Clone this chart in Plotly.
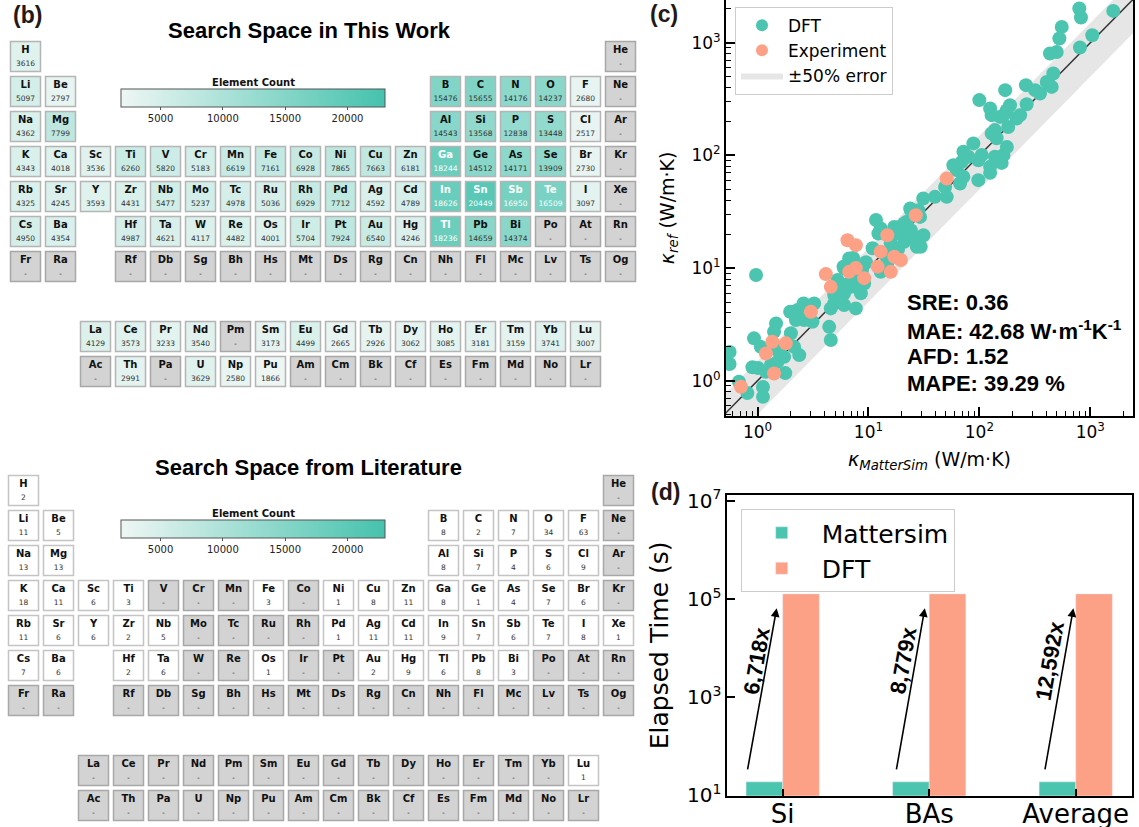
import numpy as np
import plotly.graph_objects as go

W, H = 1139, 827

# ---------------- periodic-table data ----------------
PT_LAYOUT = [
    ["H", "", "", "", "", "", "", "", "", "", "", "", "", "", "", "", "", "He"],
    ["Li", "Be", "", "", "", "", "", "", "", "", "", "", "B", "C", "N", "O", "F", "Ne"],
    ["Na", "Mg", "", "", "", "", "", "", "", "", "", "", "Al", "Si", "P", "S", "Cl", "Ar"],
    ["K", "Ca", "Sc", "Ti", "V", "Cr", "Mn", "Fe", "Co", "Ni", "Cu", "Zn", "Ga", "Ge", "As", "Se", "Br", "Kr"],
    ["Rb", "Sr", "Y", "Zr", "Nb", "Mo", "Tc", "Ru", "Rh", "Pd", "Ag", "Cd", "In", "Sn", "Sb", "Te", "I", "Xe"],
    ["Cs", "Ba", "", "Hf", "Ta", "W", "Re", "Os", "Ir", "Pt", "Au", "Hg", "Tl", "Pb", "Bi", "Po", "At", "Rn"],
    ["Fr", "Ra", "", "Rf", "Db", "Sg", "Bh", "Hs", "Mt", "Ds", "Rg", "Cn", "Nh", "Fl", "Mc", "Lv", "Ts", "Og"],
    [""] * 18,
    ["", "", "La", "Ce", "Pr", "Nd", "Pm", "Sm", "Eu", "Gd", "Tb", "Dy", "Ho", "Er", "Tm", "Yb", "Lu", ""],
    ["", "", "Ac", "Th", "Pa", "U", "Np", "Pu", "Am", "Cm", "Bk", "Cf", "Es", "Fm", "Md", "No", "Lr", ""],
]

COUNT_THIS_WORK = {
    "H": 3616, "Li": 5097, "Be": 2797, "B": 15476, "C": 15655, "N": 14176, "O": 14237, "F": 2680,
    "Na": 4362, "Mg": 7799, "Al": 14543, "Si": 13568, "P": 12838, "S": 13448, "Cl": 2517,
    "K": 4343, "Ca": 4018, "Sc": 3536, "Ti": 6260, "V": 5820, "Cr": 5183, "Mn": 6619, "Fe": 7161,
    "Co": 6928, "Ni": 7865, "Cu": 7663, "Zn": 6181, "Ga": 18244, "Ge": 14512, "As": 14171,
    "Se": 13909, "Br": 2730,
    "Rb": 4325, "Sr": 4245, "Y": 3593, "Zr": 4431, "Nb": 5477, "Mo": 5237, "Tc": 4978, "Ru": 5036,
    "Rh": 6929, "Pd": 7712, "Ag": 4592, "Cd": 4789, "In": 18626, "Sn": 20449, "Sb": 16950,
    "Te": 16509, "I": 3097,
    "Cs": 4950, "Ba": 4354, "Hf": 4987, "Ta": 4621, "W": 4117, "Re": 4482, "Os": 4001, "Ir": 5704,
    "Pt": 7924, "Au": 6540, "Hg": 4246, "Tl": 18236, "Pb": 14659, "Bi": 14374,
    "La": 4129, "Ce": 3573, "Pr": 3233, "Nd": 3540, "Sm": 3173, "Eu": 4499, "Gd": 2665, "Tb": 2926,
    "Dy": 3062, "Ho": 3085, "Er": 3181, "Tm": 3159, "Yb": 3741, "Lu": 3007,
    "Th": 2991, "U": 3629, "Np": 2580, "Pu": 1866,
}

COUNT_LITERATURE = {
    "H": 2, "Li": 11, "Be": 5, "B": 8, "C": 2, "N": 7, "O": 34, "F": 63,
    "Na": 13, "Mg": 13, "Al": 8, "Si": 7, "P": 4, "S": 6, "Cl": 9,
    "K": 18, "Ca": 11, "Sc": 6, "Ti": 3, "Fe": 3, "Ni": 1, "Cu": 8, "Zn": 11, "Ga": 8, "Ge": 1,
    "As": 4, "Se": 7, "Br": 6,
    "Rb": 11, "Sr": 6, "Y": 6, "Zr": 2, "Nb": 5, "Pd": 1, "Ag": 11, "Cd": 11, "In": 9, "Sn": 7,
    "Sb": 6, "Te": 7, "I": 8, "Xe": 1,
    "Cs": 7, "Ba": 6, "Hf": 2, "Ta": 6, "Os": 1, "Au": 2, "Hg": 9, "Tl": 6, "Pb": 8, "Bi": 3,
    "Lu": 1,
}

CBAR_TICKS = [5000, 10000, 15000, 20000]
CBAR_MIN, CBAR_MAX = 1866, 23050

# ---------------- scatter data (W/m·K) ----------------
dft_mattersim = [0.56, 0.56, 0.81, 1.12, 1.12, 0.90, 1.01, 1.78, 0.68, 1.19, 1.32, 1.51, 1.74, 2.38,
                 2.14, 1.51, 1.07, 0.93, 1.41, 1.47, 2.00, 2.22, 2.29, 2.63, 3.13, 3.24, 4.43, 4.58,
                 4.58, 4.91, 6.04, 7.70, 4.91, 5.45, 6.04, 6.94, 7.96, 8.55, 9.15, 5.26, 6.70, 6.94,
                 6.04, 10.9, 12.9, 11.7, 17.1, 21.0, 24.1, 24.1, 27.6, 29.6, 21.0, 15.9, 14.8, 12.9,
                 5.96, 2.6, 1.97, 49.1, 39.8, 31.2, 50.8, 28.2, 23.8, 29.2, 31.3, 25.4, 27.3, 19.3,
                 17.4, 22.2, 12.3, 20.7, 62.6, 71.8, 67.0, 97.9, 88.3, 71.8, 79.6, 69.4, 97.9, 105,
                 58.3, 165, 138, 159, 125, 125, 177, 129, 143, 182, 138, 125, 129, 177, 165, 189,
                 154, 217, 233, 100, 171, 267, 263, 318, 352, 405, 449, 464, 433, 498, 526, 553,
                 807, 1042, 796, 824, 1611, 16.7, 14.4, 9.5, 7.27, 18.5, 7.6, 8.75, 0.97, 7.3, 8.0,
                 6.5]
dft_ref = [1.80, 1.41, 0.78, 0.88, 0.72, 1.32, 1.30, 1.17, 0.98, 1.20, 1.38, 1.47, 1.63, 1.69,
           2.00, 1.87, 2.00, 2.38, 2.72, 3.23, 2.64, 3.46, 4.24, 3.46, 3.34, 4.86, 3.01, 2.30,
           4.39, 4.86, 4.70, 4.39, 5.76, 6.38, 5.97, 6.82, 6.82, 5.97, 7.31, 7.83, 12.2, 11.0,
           9.94, 15.0, 22.5, 26.7, 23.2, 24.9, 32.7, 21.7, 18.4, 15.5, 17.1, 16.6, 11.0, 9.27,
           10.3, 4.86, 4.1, 52.6, 42.9, 41.5, 42.9, 32.7, 33.9, 28.5, 19.6, 19.0, 15.5, 23.2,
           20.3, 25.8, 20.3, 20.3, 74.1, 64.6, 56.4, 60.4, 128, 108, 97.3, 87.8, 90.8, 101,
           82.0, 101, 97.3, 85.9, 79.2, 70.1, 119, 157, 142, 179, 168, 261, 228, 252, 228, 279,
           220, 213, 228, 310, 380, 285, 421, 380, 355, 450, 406, 534, 804, 830, 1091, 1384,
           908, 1167, 2015, 1675, 1919, 14.4, 12.8, 11.3, 12.3, 14.7, 8.5, 9.6, 8.7, 8.0, 7.9,
           7.2]
exp_mattersim = [26.7, 14.8, 6.47, 7.7, 12.9, 17.1, 19.6, 12.1, 15.9, 6.70, 7.7, 9.15, 4.13, 4.58,
                 3.03, 1.80, 1.36, 1.19, 1.41, 0.71, 50.8]
exp_ref = [29.5, 19.6, 17.7, 16.0, 14.0, 12.6, 11.8, 10.3, 9.27, 9.27, 10.0, 8.15, 8.85, 6.82,
           4.10, 2.15, 2.22, 1.75, 1.16, 0.885, 62.5]

stat_lines = ["SRE: 0.36", "MAE: 42.68 W·m<sup>-1</sup>K<sup>-1</sup>", "AFD: 1.52", "MAPE: 39.29 %"]

# ---------------- bar data ----------------
bar_categories = ["Si", "BAs", "Average"]
time_mattersim = [18.7, 18.7, 18.7]
time_dft = [1.27e5, 1.27e5, 1.27e5]
speedup_labels = ["6,718x", "8,779x", "12,592x"]

TEAL = "#4cc5b0"
SALMON = "#fca086"
CELL_SCALE = [[0.0, "#eef6f4"], [1.0, "#45c2ad"]]
WHITE_SCALE = [[0.0, "#ffffff"], [0.004, "#eef6f4"], [1.0, "#45c2ad"]]


def px_x(p):
    return p / W


def px_y(p):
    return 1 - p / H


fig = go.Figure()


def add_table(counts, xa, ya, scale, cbar_y, border, textcol_fn):
    pc, pr, ptext, pval, pcol = [], [], [], [], []
    mc, mr, mtext = [], [], []
    for r, row in enumerate(PT_LAYOUT, start=1):
        for c, sym in enumerate(row, start=1):
            if not sym:
                continue
            v = counts.get(sym)
            if v is None:
                mc.append(c); mr.append(r)
                mtext.append(f"<b>{sym}</b><br><span style='font-size:7px'>-</span>")
            else:
                pc.append(c); pr.append(r); pval.append(v)
                col = textcol_fn(v)
                numcol = "#ffffff" if col == "#ffffff" else "#333333"
                ptext.append(f"<b>{sym}</b><br><span style='font-size:7.5px;color:{numcol}'>{v}</span>")
                pcol.append(col)
    fig.add_trace(go.Scatter(
        x=mc, y=mr, xaxis=xa, yaxis=ya, mode="markers+text", text=mtext,
        textposition="middle center", hoverinfo="skip", showlegend=False,
        textfont=dict(family="DejaVu Sans", size=10, color="#111111"),
        marker=dict(symbol="square", size=30, color="#d3d3d3", line=dict(color="#a8a8a8", width=1.5)),
    ))
    fig.add_trace(go.Scatter(
        x=pc, y=pr, xaxis=xa, yaxis=ya, mode="markers+text", text=ptext,
        textposition="middle center", hoverinfo="skip", showlegend=False,
        textfont=dict(family="DejaVu Sans", size=10, color=pcol),
        marker=dict(symbol="square", size=30, color=pval, colorscale=scale, cmin=CBAR_MIN,
                    cmax=CBAR_MAX, line=dict(color=border, width=1.5), showscale=True,
                    colorbar=dict(orientation="h", x=px_x(253.5), xanchor="center",
                                  y=cbar_y, yanchor="top", len=264, lenmode="pixels",
                                  thickness=18, thicknessmode="pixels", outlinewidth=1,
                                  outlinecolor="#555555", xpad=0, ypad=0,
                                  tickvals=CBAR_TICKS, ticktext=[str(t) for t in CBAR_TICKS],
                                  ticks="outside", ticklen=3, tickcolor="#555555",
                                  tickfont=dict(family="DejaVu Sans", size=10, color="#222"),
                                  title=dict(text="<b>Element Count</b>", side="top",
                                             font=dict(family="DejaVu Sans", size=10, color="#111")))),
    ))


add_table(COUNT_THIS_WORK, "x", "y", CELL_SCALE, px_y(78), "#b5b5b5",
          lambda v: "#ffffff" if v > 16000 else "#111111")
add_table(COUNT_LITERATURE, "x2", "y2", WHITE_SCALE, px_y(509), "#c4c4c4",
          lambda v: "#111111")

# ---------------- scatter panel ----------------
band_x = np.array([0.2, 5000.0])
fig.add_trace(go.Scatter(x=band_x, y=0.5 * band_x, xaxis="x3", yaxis="y3", mode="lines",
                         line=dict(width=0, color="rgba(0,0,0,0)"), showlegend=False,
                         hoverinfo="skip"))
fig.add_trace(go.Scatter(x=band_x, y=1.5 * band_x, xaxis="x3", yaxis="y3", mode="lines",
                         line=dict(width=0, color="rgba(0,0,0,0)"), fill="tonexty",
                         fillcolor="rgba(200,200,200,0.45)", name="±50% error", legendrank=3,
                         legend="legend", hoverinfo="skip"))
fig.add_trace(go.Scatter(x=band_x, y=band_x, xaxis="x3", yaxis="y3", mode="lines",
                         line=dict(width=1.5, color="#333333"), showlegend=False, hoverinfo="skip"))
fig.add_trace(go.Scatter(x=dft_mattersim, y=dft_ref, xaxis="x3", yaxis="y3", mode="markers",
                         marker=dict(size=14, color=TEAL), name="DFT", legendrank=1,
                         legend="legend"))
fig.add_trace(go.Scatter(x=exp_mattersim, y=exp_ref, xaxis="x3", yaxis="y3", mode="markers",
                         marker=dict(size=14, color=SALMON), name="Experiment", legendrank=2,
                         legend="legend"))

# ---------------- bar panel ----------------
fig.add_trace(go.Bar(x=bar_categories, y=time_mattersim, name="Mattersim", marker_color=TEAL,
                     xaxis="x4", yaxis="y4", legend="legend2"))
fig.add_trace(go.Bar(x=bar_categories, y=time_dft, name="DFT", marker_color=SALMON,
                     xaxis="x4", yaxis="y4", legend="legend2"))

annotations = []
tail_dx = [-0.25, -0.234, -0.22]
head_dx = [-0.041, -0.03, -0.016]
for i, lab in enumerate(speedup_labels):
    annotations.append(dict(
        x=i + head_dx[i], y=np.log10(time_dft[i]) - 0.29, xref="x4", yref="y4",
        ax=i + tail_dx[i], ay=np.log10(time_mattersim[i]) + 0.08, axref="x4", ayref="y4",
        text=" ", showarrow=True, arrowhead=2, arrowsize=1.1, arrowwidth=1.6,
        arrowcolor="black", standoff=0, startstandoff=0))
    annotations.append(dict(
        x=i - 0.175, y=3.74, xref="x4", yref="y4", text=f"<b>{lab}</b>", showarrow=False,
        textangle=-80, font=dict(family="Liberation Sans", size=22, color="black")))

stat_y = [302.7, 330, 356.5, 383.3]
for s, yy in zip(stat_lines, stat_y):
    annotations.append(dict(x=px_x(905), y=px_y(yy), xref="paper", yref="paper", text=f"<b>{s}</b>",
                            showarrow=False, xanchor="left", yanchor="middle",
                            font=dict(family="Liberation Sans", size=22, color="black")))

for lab, cx, cy in [("(b)", 27, 15), ("(c)", 664, 14), ("(d)", 665, 492)]:
    annotations.append(dict(x=px_x(cx), y=px_y(cy), xref="paper", yref="paper", text=f"<b>{lab}</b>",
                            showarrow=False, xanchor="center", yanchor="middle",
                            font=dict(family="Liberation Sans", size=23, color="#231815")))
for lab, cx, cy in [("Search Space in This Work", 309, 31), ("Search Space from Literature", 308, 467)]:
    annotations.append(dict(x=px_x(cx), y=px_y(cy), xref="paper", yref="paper", text=f"<b>{lab}</b>",
                            showarrow=False, xanchor="center", yanchor="middle",
                            font=dict(family="Liberation Sans", size=22, color="black")))

hidden = dict(visible=False, showgrid=False, zeroline=False)


def sup(e):
    return f"10<sup>{e}</sup>"


minor_x = [v * 10.0 ** d for d in range(-1, 4) for v in range(2, 10)]
scatter_tick = dict(showline=True, mirror=True, linecolor="black", linewidth=2, ticks="inside",
                    ticklen=9, tickwidth=2, tickcolor="black", showgrid=False, zeroline=False,
                    tickfont=dict(family="DejaVu Sans", size=17, color="black"),
                    minor=dict(ticks="inside", ticklen=4.5, tickwidth=1.2, tickcolor="black",
                               tickvals=minor_x, showgrid=False))

fig.update_layout(
    width=W, height=H, margin=dict(l=0, r=0, t=0, b=0, autoexpand=False), paper_bgcolor="white",
    plot_bgcolor="rgba(0,0,0,0)", font=dict(family="DejaVu Sans", color="black"),
    barmode="group", bargap=0.5, bargroupgap=0,
    xaxis=dict(domain=[px_x(8), px_x(638)], range=[0.5, 18.5], anchor="y", **hidden),
    yaxis=dict(domain=[px_y(389), px_y(39)], range=[10.5, 0.5], anchor="x", **hidden),
    xaxis2=dict(domain=[px_x(6), px_x(636)], range=[0.5, 18.5], anchor="y2", **hidden),
    yaxis2=dict(domain=[px_y(823), px_y(473)], range=[10.5, 0.5], anchor="x2", **hidden),
    xaxis3=dict(domain=[px_x(726), px_x(1133)], type="log", range=[-0.284, 3.385], anchor="y3",
                tickvals=[1, 10, 100, 1000], ticktext=[sup(0), sup(1), sup(2), sup(3)],
                title=dict(text="<i>κ<sub>MatterSim</sub></i> (W/m·K)", standoff=12,
                           font=dict(family="DejaVu Sans", size=19)),
                automargin=False, **scatter_tick),
    yaxis3=dict(domain=[px_y(415.7), 1.0], type="log", range=[-0.31, 3.38], anchor="x3",
                tickvals=[1, 10, 100, 1000], ticktext=[sup(0), sup(1), sup(2), sup(3)],
                title=dict(text="<i>κ<sub>ref</sub></i> (W/m·K)", standoff=12,
                           font=dict(family="DejaVu Sans", size=19)),
                automargin=False, **scatter_tick),
    xaxis4=dict(domain=[px_x(727.3), px_x(1131.7)], type="category", range=[-0.378, 2.382],
                anchor="y4", showline=True, mirror=True, linecolor="black", linewidth=2,
                ticks="inside", ticklen=7, tickwidth=1.5, tickcolor="black", showgrid=False,
                automargin=False, ticklabelstandoff=-6,
                tickfont=dict(family="DejaVu Sans", size=26, color="black")),
    yaxis4=dict(domain=[px_y(795.7), px_y(495)], type="log", range=[0.99, 7.12], anchor="x4",
                showline=True, mirror=True, linecolor="black", linewidth=2, ticks="inside",
                ticklen=8, tickwidth=1.5, tickcolor="black", showgrid=False, zeroline=False,
                automargin=False,
                tickvals=[1e1, 1e3, 1e5, 1e7], ticktext=[sup(1), sup(3), sup(5), sup(7)],
                tickfont=dict(family="DejaVu Sans", size=20, color="black"),
                title=dict(text="Elapsed Time (s)", standoff=11,
                           font=dict(family="DejaVu Sans", size=25))),
    legend=dict(x=px_x(735), y=px_y(6.7), xanchor="left", yanchor="top", bgcolor="rgba(255,255,255,0.85)",
                bordercolor="#cccccc", borderwidth=1, font=dict(family="DejaVu Sans", size=17),
                itemsizing="constant", itemwidth=42, tracegroupgap=0, traceorder="normal"),
    legend2=dict(x=px_x(740.7), y=px_y(509), xanchor="left", yanchor="top", bgcolor="white",
                 bordercolor="#cccccc", borderwidth=1, font=dict(family="DejaVu Sans", size=25),
                 itemwidth=70, tracegroupgap=0, traceorder="normal"),
    annotations=annotations,
)

fig.write_html("out.html", config={"displayModeBar": False},
               post_script="document.body.style.margin='0';document.body.style.overflow='hidden';")
